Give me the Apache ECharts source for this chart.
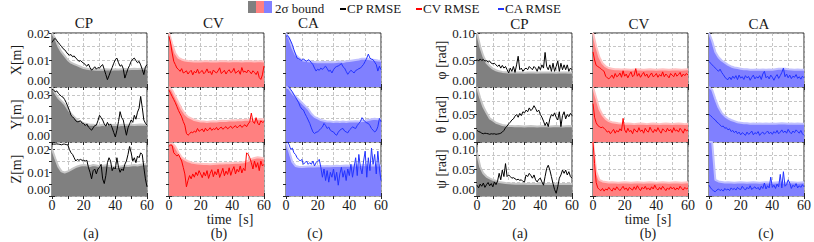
<!DOCTYPE html>
<html><head><meta charset="utf-8">
<script src="https://cdn.jsdelivr.net/npm/echarts@6/dist/echarts.min.js"></script>
<style>html,body{margin:0;padding:0;background:#fff}#c{width:814px;height:242px}</style>
</head><body><div id="c"></div>
<script>
// sample times
const tLine = [0,1,2,3,4,5,6,7,8,9,10,11,12,13,14,15,16,17,18,19,20,21,22,23,24,25,26,27,28,29,30,31,32,33,34,35,36,37,38,39,40,41,42,43,44,45,46,47,48,49,50,51,52,53,54,55,56,57,58,59,60];
const tBound = [0,2,4,6,8,10,12,14,16,18,20,22,24,26,28,30,32,34,36,38,40,42,44,46,48,50,52,54,56,58,60];
const xTicks = [0,20,40,60];

// ---- position RMSE [m] ----
const xCP = [0.0165,0.0175,0.018,0.0172,0.0165,0.0157,0.015,0.0142,0.0138,0.013,0.0122,0.0118,0.012,0.0112,0.0115,0.0107,0.0102,0.0095,0.0098,0.0092,0.0089,0.0082,0.0077,0.0085,0.0072,0.0062,0.0068,0.0075,0.0066,0.0072,0.007,0.0078,0.0083,0.0065,0.0046,0.0027,0.0042,0.0058,0.0072,0.0088,0.0101,0.0107,0.009,0.0077,0.0082,0.0068,0.0033,0.005,0.0068,0.008,0.0095,0.0103,0.0107,0.0098,0.009,0.0095,0.0082,0.0065,0.0046,0.0075,0.0083];
const xCPBound = [0.020,0.018,0.015,0.013,0.0115,0.010,0.009,0.0085,0.008,0.0075,0.007,0.0068,0.0066,0.0065,0.0064,0.0065,0.0064,0.0066,0.0065,0.0064,0.0066,0.0065,0.0066,0.0067,0.0066,0.0067,0.0068,0.0067,0.0068,0.0068,0.0068];
const xCV = [0.0188,0.0163,0.0126,0.0095,0.0083,0.007,0.0065,0.0058,0.0068,0.0052,0.0055,0.006,0.0048,0.0056,0.0062,0.0045,0.0058,0.0052,0.0066,0.005,0.0057,0.0061,0.0049,0.0055,0.0067,0.0052,0.0058,0.0046,0.0063,0.0056,0.0052,0.006,0.0071,0.005,0.0055,0.0062,0.0048,0.0058,0.0064,0.0053,0.0057,0.0069,0.0051,0.0056,0.0061,0.0047,0.0072,0.0055,0.0059,0.0052,0.0063,0.0057,0.0049,0.006,0.0054,0.0046,0.0058,0.0035,0.0028,0.0045,0.0078];
const xCVBound = [0.020,0.016,0.0125,0.0108,0.0102,0.0098,0.0096,0.0095,0.0094,0.0095,0.0094,0.0095,0.0096,0.0094,0.0095,0.0094,0.0095,0.0096,0.0095,0.0094,0.0095,0.0096,0.0095,0.0094,0.0095,0.0096,0.0095,0.0094,0.0095,0.0095,0.0094];
const xCA = [0.0188,0.019,0.0182,0.017,0.0157,0.0138,0.0122,0.0107,0.0105,0.0101,0.0098,0.0104,0.0099,0.0095,0.0101,0.0098,0.009,0.0083,0.007,0.0059,0.0066,0.0062,0.007,0.0065,0.0072,0.0077,0.0068,0.0058,0.0062,0.0052,0.0064,0.0072,0.0076,0.0078,0.0082,0.0087,0.0075,0.007,0.0058,0.0047,0.0055,0.0062,0.0057,0.0052,0.0061,0.0064,0.0068,0.007,0.0077,0.0084,0.0095,0.0107,0.0122,0.0107,0.0103,0.0101,0.0092,0.0083,0.0059,0.0077,0.0064];
const xCABound = [0.020,0.018,0.0145,0.012,0.0108,0.010,0.0097,0.0095,0.0094,0.0093,0.0092,0.0092,0.0093,0.0092,0.0093,0.0092,0.0093,0.0094,0.0093,0.0095,0.0096,0.0098,0.010,0.0102,0.0105,0.0105,0.0104,0.0102,0.010,0.0098,0.0097];

const yCP = [0.0335,0.033,0.032,0.0325,0.031,0.030,0.029,0.0285,0.027,0.025,0.0225,0.02,0.017,0.016,0.015,0.0135,0.0129,0.013,0.0135,0.012,0.0118,0.0105,0.0115,0.0095,0.0085,0.0075,0.009,0.0105,0.0107,0.0135,0.017,0.0155,0.014,0.0115,0.01,0.0125,0.0105,0.0115,0.009,0.006,0.0032,0.0075,0.013,0.0193,0.0155,0.014,0.009,0.0043,0.009,0.0115,0.014,0.0125,0.017,0.0145,0.019,0.0215,0.029,0.022,0.014,0.012,0.0107];
const yCPBound = [0.035,0.031,0.028,0.026,0.024,0.021,0.018,0.016,0.014,0.013,0.012,0.0115,0.011,0.011,0.0105,0.0105,0.011,0.0105,0.011,0.0108,0.011,0.0105,0.011,0.0108,0.011,0.011,0.0108,0.011,0.0112,0.011,0.011];
const yCV = [0.033,0.031,0.029,0.027,0.025,0.0225,0.020,0.018,0.016,0.013,0.0107,0.0055,0.0043,0.0052,0.0064,0.0058,0.007,0.0062,0.0086,0.0068,0.0075,0.0082,0.0065,0.0088,0.0072,0.0078,0.0091,0.0074,0.0085,0.0079,0.0093,0.0076,0.0088,0.0095,0.0081,0.009,0.0098,0.0084,0.0092,0.0101,0.0087,0.0096,0.0104,0.009,0.0099,0.0108,0.0093,0.0102,0.011,0.0097,0.0115,0.0128,0.0184,0.013,0.0118,0.0155,0.012,0.0108,0.0135,0.0125,0.0129];
const yCVBound = [0.035,0.033,0.029,0.025,0.021,0.018,0.016,0.015,0.014,0.0135,0.013,0.013,0.0128,0.013,0.0132,0.013,0.0133,0.0135,0.0134,0.0136,0.0138,0.0137,0.014,0.0139,0.0141,0.0142,0.0143,0.0142,0.0144,0.0145,0.0145];
const yCA = [0.036,0.036,0.035,0.0333,0.032,0.030,0.0285,0.0268,0.025,0.0225,0.021,0.0204,0.018,0.0161,0.014,0.0118,0.009,0.0064,0.0054,0.0062,0.0064,0.0075,0.0086,0.0095,0.0118,0.0105,0.0086,0.0095,0.0075,0.0068,0.0064,0.005,0.0043,0.0062,0.0075,0.0082,0.0086,0.007,0.0064,0.0058,0.0075,0.0085,0.0097,0.009,0.0086,0.0105,0.0118,0.013,0.0155,0.014,0.0129,0.0122,0.0118,0.0105,0.0086,0.0075,0.0064,0.0072,0.0097,0.015,0.0129];
const yCABound = [0.035,0.034,0.031,0.029,0.027,0.025,0.023,0.021,0.018,0.016,0.015,0.014,0.0135,0.013,0.013,0.0128,0.013,0.0127,0.013,0.0128,0.013,0.013,0.0132,0.013,0.0133,0.0135,0.014,0.0145,0.0148,0.0145,0.0145];

const zCP = [0.0221,0.0221,0.0221,0.0222,0.0221,0.022,0.0218,0.0221,0.0221,0.0219,0.0218,0.0198,0.0184,0.0177,0.0163,0.0149,0.0156,0.0152,0.0156,0.0152,0.0152,0.0149,0.0152,0.0122,0.0101,0.0073,0.0108,0.0115,0.0094,0.0115,0.0122,0.0135,0.0073,0.0053,0.0087,0.0142,0.0163,0.0149,0.0108,0.0122,0.0115,0.0163,0.0122,0.0101,0.0115,0.0108,0.0135,0.0149,0.0177,0.0211,0.0184,0.0149,0.0163,0.0142,0.017,0.0163,0.0184,0.0177,0.0122,0.0073,0.0039];
const zCPBound = [0.020,0.016,0.0125,0.0105,0.0100,0.0105,0.0112,0.012,0.0126,0.013,0.0132,0.013,0.0128,0.0132,0.013,0.0127,0.0129,0.0131,0.0128,0.0126,0.0124,0.0125,0.0127,0.013,0.0128,0.013,0.0132,0.013,0.0133,0.0135,0.0135];
const zCV = [0.0211,0.0218,0.0215,0.0184,0.0177,0.017,0.0177,0.0163,0.0149,0.0122,0.0094,0.0039,0.0066,0.0087,0.0073,0.0094,0.008,0.0101,0.0087,0.0108,0.0094,0.0078,0.0101,0.0085,0.0108,0.0075,0.0096,0.0112,0.0082,0.0104,0.009,0.0115,0.0079,0.0098,0.0118,0.0086,0.0106,0.0092,0.012,0.0088,0.011,0.0125,0.0094,0.0114,0.0102,0.0128,0.0098,0.0118,0.0108,0.0184,0.0177,0.0163,0.0142,0.0115,0.0149,0.0122,0.0142,0.0108,0.0149,0.0128,0.0135];
const zCVBound = [0.0225,0.0225,0.021,0.0185,0.0165,0.0155,0.0148,0.0143,0.014,0.0138,0.0137,0.0136,0.0136,0.0135,0.0136,0.0137,0.0138,0.0138,0.0139,0.014,0.0141,0.0142,0.0142,0.0143,0.0145,0.015,0.0158,0.0162,0.0165,0.0163,0.016];
const zCA = [0.0235,0.023,0.0218,0.0198,0.0204,0.0184,0.0177,0.0163,0.0156,0.0149,0.0156,0.0135,0.0142,0.0149,0.0135,0.0142,0.0135,0.0149,0.0128,0.0142,0.0149,0.0156,0.0122,0.008,0.0115,0.0066,0.0108,0.0059,0.0101,0.008,0.0115,0.0066,0.0101,0.0046,0.0094,0.0122,0.008,0.0108,0.0066,0.0115,0.0087,0.0135,0.008,0.0122,0.0163,0.0087,0.0177,0.0122,0.0094,0.0149,0.0191,0.008,0.0163,0.0108,0.0204,0.0135,0.0177,0.0094,0.0191,0.0115,0.0066];
const zCABound = [0.0225,0.019,0.0145,0.0128,0.0125,0.0124,0.0125,0.0126,0.0127,0.0126,0.0127,0.0128,0.0127,0.0128,0.0127,0.0128,0.0129,0.0128,0.0129,0.013,0.0129,0.013,0.0131,0.013,0.0131,0.0132,0.013,0.0131,0.013,0.0131,0.013];

// ---- attitude RMSE [rad] ----
const phiCP = [0.051,0.048,0.052,0.049,0.051,0.048,0.049,0.046,0.048,0.044,0.043,0.044,0.041,0.038,0.041,0.035,0.040,0.035,0.038,0.032,0.026,0.035,0.029,0.038,0.027,0.041,0.057,0.032,0.035,0.029,0.033,0.035,0.032,0.038,0.035,0.032,0.038,0.035,0.029,0.038,0.032,0.041,0.035,0.064,0.038,0.032,0.041,0.029,0.044,0.029,0.038,0.048,0.029,0.044,0.032,0.041,0.032,0.041,0.029,0.035,0.032];
const phiCPBound = [0.10,0.075,0.057,0.045,0.039,0.034,0.031,0.029,0.028,0.0275,0.027,0.027,0.0268,0.027,0.0268,0.0265,0.0268,0.027,0.0268,0.0266,0.0268,0.027,0.0268,0.027,0.0268,0.0266,0.0268,0.027,0.0268,0.0266,0.0268];
const phiCV = [0.065,0.05,0.04,0.038,0.036,0.034,0.031,0.029,0.02,0.017,0.015,0.018,0.022,0.016,0.025,0.019,0.021,0.026,0.018,0.03,0.02,0.024,0.017,0.023,0.028,0.019,0.022,0.034,0.02,0.025,0.018,0.023,0.027,0.02,0.024,0.017,0.022,0.026,0.019,0.021,0.025,0.018,0.023,0.02,0.028,0.019,0.024,0.021,0.017,0.025,0.022,0.019,0.026,0.02,0.023,0.027,0.019,0.024,0.021,0.025,0.022];
const phiCVBound = [0.10,0.075,0.055,0.044,0.038,0.035,0.034,0.033,0.033,0.0325,0.033,0.0325,0.032,0.0325,0.033,0.0325,0.032,0.0325,0.033,0.0325,0.032,0.0325,0.033,0.0325,0.032,0.0325,0.033,0.0325,0.032,0.0325,0.033];
const phiCA = [0.0475,0.044,0.041,0.038,0.035,0.032,0.029,0.033,0.027,0.023,0.0185,0.015,0.0136,0.0185,0.0136,0.02,0.016,0.021,0.0136,0.022,0.0165,0.019,0.014,0.021,0.017,0.0195,0.0125,0.018,0.022,0.015,0.019,0.0165,0.021,0.014,0.024,0.029,0.017,0.02,0.015,0.022,0.018,0.0125,0.019,0.023,0.016,0.021,0.027,0.035,0.019,0.024,0.017,0.022,0.0155,0.02,0.018,0.023,0.016,0.019,0.0145,0.02,0.017];
const phiCABound = [0.10,0.085,0.065,0.055,0.049,0.045,0.041,0.038,0.036,0.035,0.034,0.033,0.033,0.032,0.032,0.0325,0.032,0.0325,0.032,0.0325,0.032,0.033,0.034,0.034,0.034,0.033,0.0325,0.032,0.0325,0.032,0.032];

const thetaCP = [0.021,0.019,0.018,0.016,0.015,0.016,0.0155,0.015,0.014,0.015,0.0145,0.015,0.014,0.0145,0.015,0.016,0.018,0.021,0.026,0.029,0.033,0.036,0.04,0.042,0.047,0.05,0.045,0.052,0.048,0.055,0.053,0.058,0.055,0.062,0.057,0.06,0.066,0.061,0.055,0.058,0.05,0.045,0.038,0.03,0.036,0.028,0.042,0.05,0.047,0.053,0.045,0.04,0.055,0.028,0.048,0.055,0.042,0.05,0.046,0.052,0.048];
const thetaCPBound = [0.10,0.08,0.064,0.053,0.043,0.039,0.035,0.033,0.031,0.030,0.029,0.029,0.0285,0.029,0.0285,0.028,0.0285,0.029,0.0285,0.028,0.0285,0.029,0.0285,0.028,0.0285,0.029,0.0285,0.028,0.0285,0.029,0.0285];
const thetaCV = [0.07,0.045,0.035,0.03,0.028,0.026,0.027,0.025,0.022,0.018,0.02,0.015,0.019,0.023,0.016,0.021,0.018,0.024,0.02,0.043,0.022,0.017,0.025,0.019,0.021,0.015,0.024,0.02,0.018,0.026,0.019,0.022,0.016,0.025,0.02,0.018,0.027,0.021,0.017,0.023,0.019,0.026,0.02,0.016,0.024,0.021,0.018,0.025,0.02,0.023,0.017,0.026,0.02,0.022,0.018,0.025,0.021,0.016,0.024,0.02,0.022];
const thetaCVBound = [0.10,0.08,0.06,0.049,0.042,0.038,0.036,0.035,0.034,0.0335,0.033,0.0335,0.033,0.0325,0.033,0.0335,0.033,0.0325,0.033,0.0335,0.033,0.0325,0.033,0.0335,0.033,0.0325,0.033,0.0335,0.033,0.0325,0.033];
const thetaCA = [0.05,0.048,0.045,0.042,0.04,0.036,0.034,0.031,0.028,0.029,0.025,0.026,0.022,0.024,0.019,0.021,0.017,0.02,0.015,0.018,0.013,0.017,0.015,0.012,0.018,0.014,0.016,0.02,0.013,0.017,0.015,0.019,0.012,0.016,0.018,0.014,0.017,0.02,0.015,0.018,0.014,0.019,0.016,0.021,0.015,0.018,0.022,0.017,0.02,0.016,0.023,0.018,0.015,0.02,0.017,0.022,0.019,0.016,0.021,0.015,0.012];
const thetaCABound = [0.10,0.095,0.078,0.063,0.053,0.047,0.043,0.04,0.038,0.036,0.035,0.034,0.034,0.033,0.0335,0.033,0.0335,0.033,0.0335,0.033,0.0335,0.033,0.0335,0.034,0.0335,0.033,0.0335,0.033,0.0335,0.033,0.033];

const psiCP = [0.02,0.015,0.022,0.018,0.024,0.016,0.021,0.025,0.019,0.023,0.017,0.026,0.021,0.028,0.042,0.03,0.048,0.036,0.06,0.036,0.039,0.036,0.033,0.034,0.032,0.03,0.031,0.029,0.03,0.027,0.026,0.039,0.036,0.042,0.038,0.033,0.039,0.03,0.026,0.031,0.033,0.026,0.02,0.036,0.051,0.057,0.048,0.036,0.023,0.012,0.005,0.017,0.033,0.039,0.048,0.042,0.048,0.039,0.045,0.036,0.033];
const psiCPBound = [0.08,0.054,0.042,0.036,0.0325,0.03,0.028,0.026,0.025,0.024,0.0235,0.023,0.0228,0.0225,0.0228,0.0225,0.0222,0.0225,0.0222,0.022,0.0222,0.0225,0.0222,0.022,0.0222,0.0225,0.0222,0.022,0.0222,0.0225,0.0222];
const psiCV = [0.1,0.06,0.025,0.015,0.012,0.01,0.014,0.009,0.013,0.011,0.016,0.012,0.009,0.015,0.011,0.017,0.013,0.01,0.014,0.018,0.012,0.015,0.01,0.016,0.013,0.011,0.017,0.012,0.019,0.014,0.01,0.016,0.013,0.018,0.012,0.015,0.011,0.017,0.013,0.02,0.014,0.011,0.016,0.012,0.018,0.014,0.01,0.015,0.012,0.017,0.013,0.016,0.011,0.015,0.012,0.018,0.014,0.011,0.016,0.013,0.015];
const psiCVBound = [0.10,0.045,0.03,0.027,0.026,0.025,0.0255,0.025,0.0245,0.025,0.0255,0.025,0.0245,0.025,0.0255,0.025,0.0245,0.025,0.0255,0.025,0.0245,0.025,0.0255,0.025,0.0245,0.025,0.0255,0.025,0.0245,0.025,0.0255];
const psiCA = [0.02,0.015,0.012,0.009,0.008,0.011,0.013,0.01,0.012,0.009,0.014,0.011,0.013,0.01,0.015,0.012,0.014,0.011,0.016,0.013,0.012,0.018,0.014,0.011,0.016,0.013,0.019,0.012,0.015,0.017,0.013,0.016,0.011,0.018,0.014,0.024,0.013,0.019,0.015,0.035,0.016,0.02,0.014,0.022,0.017,0.04,0.015,0.045,0.018,0.021,0.03,0.024,0.014,0.02,0.017,0.023,0.015,0.019,0.016,0.021,0.017];
const psiCABound = [0.10,0.10,0.03,0.027,0.026,0.025,0.0255,0.025,0.0245,0.025,0.0255,0.025,0.0245,0.025,0.0255,0.025,0.0245,0.025,0.0255,0.025,0.0245,0.025,0.0255,0.025,0.0245,0.025,0.0255,0.025,0.0245,0.025,0.0255];

// y-axis tick labels per row
const posRows = [
  {name:'X[m]', max:0.02,   step:0.005,  ticks:[0,0.01,0.02],   labels:['0.00','0.01','0.02']},
  {name:'Y[m]', max:0.035,  step:0.0075, ticks:[0,0.015,0.03],  labels:['0.00','0.01','0.03']},
  {name:'Z[m]', max:0.023,  step:0.005,  ticks:[0,0.01,0.02],   labels:['0.00','0.01','0.02']}
];
const attRows = [
  {name:'φ [rad]', max:0.10, step:0.025, ticks:[0,0.05,0.10], labels:['0.00','0.05','0.10']},
  {name:'θ [rad]', max:0.10, step:0.025, ticks:[0,0.05,0.10], labels:['0.00','0.05','0.10']},
  {name:'ψ [rad]', max:0.10, step:0.025, ticks:[0,0.05,0.10], labels:['0.00','0.05','0.10']}
];
const colTitles = ['CP','CV','CA'];
const subLabels = ['(a)','(b)','(c)'];
const xName = 'time  [s]';
const legendNames = ['2σ bound','CP RMSE','CV RMSE','CA RMSE'];

const posData = [[xCP,xCPBound,xCV,xCVBound,xCA,xCABound],[yCP,yCPBound,yCV,yCVBound,yCA,yCABound],[zCP,zCPBound,zCV,zCVBound,zCA,zCABound]];
const attData = [[phiCP,phiCPBound,phiCV,phiCVBound,phiCA,phiCABound],[thetaCP,thetaCPBound,thetaCV,thetaCVBound,thetaCA,thetaCABound],[psiCP,psiCPBound,psiCV,psiCVBound,psiCA,psiCABound]];

// ---- styling / layout ----
const FONT = 'Liberation Serif, Times New Roman, serif';
const TXT = '#1a1a1a';
const STY = [
  {band:'#808080', fringe:'#c6c6c6', line:'#000000'},
  {band:'#ff8080', fringe:'#ffc0c0', line:'#ff0000'},
  {band:'#8080ff', fringe:'#c0c0ff', line:'#2233ff'}
];
const figLeft = [[52,169,286],[477,593,709]];
const rowTop = [33,87,142], rowH = [54,55,54];
const PW = 95;

const grids=[], xAxes=[], yAxes=[], series=[];
function near(a,b){return Math.abs(a-b)<1e-9;}
const labTok = {fontFamily:FONT, fontSize:13, lineHeight:11, color:TXT};
[ {rows:posRows, data:posData}, {rows:attRows, data:attData} ].forEach((fig,f)=>{
  fig.rows.forEach((row,r)=>{
    for(let c=0;c<3;c++){
      const gi = grids.length;
      grids.push({left:figLeft[f][c], top:rowTop[r], width:PW, height:rowH[r], show:true, borderColor:'#262626', borderWidth:1, backgroundColor:'transparent'});
      const tick = {show:true, inside:true, length:3, lineStyle:{color:'#262626', width:1}};
      xAxes.push({gridIndex:gi, type:'value', min:0, max:60, interval:10, position:'bottom',
        axisLine:{show:false}, axisTick:tick,
        splitLine:{show:true, lineStyle:{type:[3,2], color:'#b8b8b8', width:0.8}},
        axisLabel:{show:r===2, margin:3, fontFamily:FONT, fontSize:14, lineHeight:12, color:TXT,
          formatter:v=> xTicks.some(t=>near(t,v)) ? String(v) : ''}});
      xAxes.push({gridIndex:gi, type:'value', min:0, max:60, interval:10, position:'top',
        axisLine:{show:false}, axisTick:tick, splitLine:{show:false}, axisLabel:{show:false}});
      const shiftTop = r>0 && f===1;
      yAxes.push({gridIndex:gi, type:'value', min:0, max:row.max, interval:row.step, position:'left',
        axisLine:{show:false}, axisTick:tick,
        splitLine:{show:true, lineStyle:{type:[3,2], color:'#b8b8b8', width:0.8}},
        name: c===0 ? row.name : '', nameLocation:'middle', nameGap:25, nameRotate:90,
        nameTextStyle:{fontFamily:FONT, fontSize:14, color:TXT},
        axisLabel:{show:c===0, margin:2, fontFamily:FONT, fontSize:13, lineHeight:11, color:TXT,
          verticalAlignMinLabel:'bottom',
          verticalAlignMaxLabel: shiftTop ? 'top' : 'middle',
          formatter:v=>{
            const k=row.ticks.findIndex(t=>near(t,v));
            if(k<0) return '';
            const s=row.labels[k];
            if(k===0) return '{lo|'+s+'}';
            if(shiftTop && near(v,row.max)) return '{hi|'+s+'}';
            return s;
          },
          rich:{lo:Object.assign({padding:[0,0,3,0]},labTok), hi:Object.assign({padding:[3,0,0,0]},labTok)}}});
      yAxes.push({gridIndex:gi, type:'value', min:0, max:row.max, interval:row.step, position:'right',
        axisLine:{show:false}, axisTick:tick, splitLine:{show:false}, axisLabel:{show:false}});
      const rm = fig.data[r][2*c], bd = fig.data[r][2*c+1], st = STY[c];
      series.push({type:'line', xAxisIndex:2*gi, yAxisIndex:2*gi, symbol:'none', silent:true, z:2,
        data:tBound.map((t,k)=>[t,bd[k]]),
        lineStyle:{color:st.fringe, width:2}, areaStyle:{color:st.band, opacity:1}});
      series.push({type:'line', xAxisIndex:2*gi, yAxisIndex:2*gi, symbol:'none', silent:true, z:3,
        data:tLine.map((t,k)=>[t,rm[k]]),
        lineStyle:{color:st.line, width:1}});
    }
  });
});

// text labels as title components (center x, center y)
const titles=[];
const T=(s,x,y,size,align,lh)=>titles.push({text:s, left:x, top:y-(lh||size)/2, padding:0, textAlign:align||'center',
  textStyle:{fontFamily:FONT, fontSize:size, fontWeight:'normal', color:TXT, lineHeight:lh||size}});
[[84,213.5,308.5],[519.5,639,759]].forEach((xs,f)=>xs.forEach((x,c)=>T(colTitles[c],x,f?24:23,15)));
[[91,219,315],[520,648,766]].forEach(xs=>xs.forEach((x,c)=>T(subLabels[c],x,233.5,14,'center',13)));
T(xName,230,219,14,'center',13);
T(xName,648,219,14,'center',13);
T(legendNames[0],275,8,13,'left');
const graphic=[];
graphic.push({type:'rect', shape:{x:248,y:1,width:8,height:12}, style:{fill:STY[0].band}});
graphic.push({type:'rect', shape:{x:256,y:1,width:8,height:12}, style:{fill:STY[1].band}});
graphic.push({type:'rect', shape:{x:264,y:1,width:8,height:12}, style:{fill:STY[2].band}});
[[340,legendNames[1],STY[0].line],[416,legendNames[2],STY[1].line],[498,legendNames[3],STY[2].line]].forEach(([x,s,col])=>{
  graphic.push({type:'line', shape:{x1:x,y1:9,x2:x+6,y2:9}, style:{stroke:col, lineWidth:2}});
  T(s,x+7,8,13,'left');
});

const chart = echarts.init(document.getElementById('c'), null, {renderer:'svg', width:814, height:242});
chart.setOption({animation:false, backgroundColor:'#fff', title:titles, grid:grids, xAxis:xAxes, yAxis:yAxes, series:series, graphic:graphic});
</script></body></html>
